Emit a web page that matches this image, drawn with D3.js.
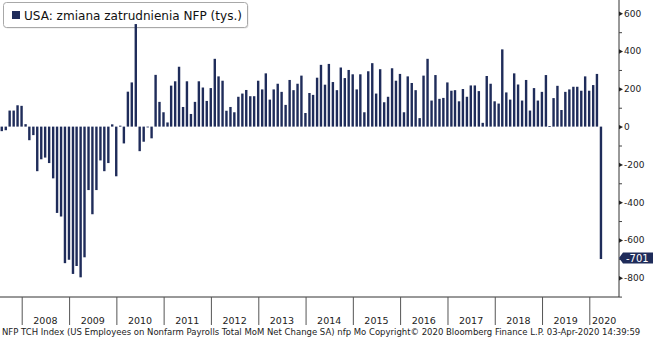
<!DOCTYPE html>
<html><head><meta charset="utf-8">
<script src="https://cdn.jsdelivr.net/npm/d3@7"></script>
<style>
body{margin:0;background:#fff}
svg{display:block}
text{font-family:"DejaVu Sans",Verdana,sans-serif}
</style>
</head><body><svg id="c" width="653" height="339"></svg>
<script>
// ---- data ----
const seriesName = "USA: zmiana zatrudnienia NFP (tys.)";
const firstYear = 2007, firstMonth = 6; // July 2007 (0-based month)
const nfpValues = [
  -24, -19, 85, 85, 113, 110,
  13, -72, -45, -236, -173, -164, -193, -274, -457, -476, -723, -705,
  -780, -738, -798, -692, -336, -464, -336, -179, -236, -193, 12, -263,
  5, -89, 185, 234, 543, -130, -80, -2, -62, 274, 131, 76,
  22, 217, 240, 317, 104, 240, 67, 131, 240, 207, 136, 204,
  359, 266, 243, 84, 104, 76, 158, 175, 194, 161, 161, 243,
  197, 282, 143, 197, 227, 184, 115, 247, 193, 227, 270, 72,
  178, 168, 259, 327, 222, 332, 236, 193, 313, 257, 300, 277,
  197, 277, 76, 293, 336, 175, 304, 129, 158, 309, 243, 279,
  76, 266, 231, 193, 45, 270, 359, 138, 273, 147, 152, 234,
  190, 193, 134, 199, 158, 218, 218, 188, 20, 268, 227, 134,
  122, 409, 181, 143, 282, 223, 138, 247, 85, 204, 138, 184,
  273, 3, 151, 216, 88, 184, 197, 211, 211, 190, 266, 190,
  220, 279, -701
];
const yearLabels = [2008,2009,2010,2011,2012,2013,2014,2015,2016,2017,2018,2019,2020];
const yMajorTicks = [600,400,200,0,-200,-400,-600,-800];
const yMinorTicks = [500,300,100,-100,-300,-500,-700,-900];
const lastValueLabel = "-701";
const footerText = "NFP TCH Index (US Employees on Nonfarm Payrolls Total MoM Net Change SA) nfp  Mo Copyright\u00A9 2020 Bloomberg Finance L.P. 03-Apr-2020 14:39:59";

// ---- layout ----
const navy = "#1f2c5a";
const plotRight = 619, plotBottom = 297;
const svg = d3.select("#c");

const x = d3.scaleTime()
  .domain([new Date(2008,0,1), new Date(2020,0,1)])
  .range([21.7, 589.3]);
const y = d3.scaleLinear().domain([-800, 600]).range([277.7, 13.3]);

const data = nfpValues.map((v,i) => {
  const m = firstMonth + i;
  const yr = firstYear + Math.floor(m/12);
  const mo = m % 12;
  return {date: new Date(yr, mo+1, 0), value: v};
});

// legend
const lg = svg.append("g");
lg.append("rect").attr("x",4.5).attr("y",3.5).attr("width",244).attr("height",25)
  .attr("rx",3).attr("fill","#e6e6e6").attr("stroke","none");
lg.append("rect").attr("x",3.5).attr("y",2.5).attr("width",244).attr("height",25)
  .attr("rx",3).attr("fill","#fff").attr("stroke","#a8a8a8");
lg.append("rect").attr("x",12).attr("y",11).attr("width",8).attr("height",8).attr("fill",navy);
lg.append("text").attr("x",24).attr("y",19.5).attr("font-size","11.5px").attr("fill","#111")
  .attr("textLength",218).attr("lengthAdjust","spacingAndGlyphs").text(seriesName);

// bars
const bw = 2.4;
svg.append("g").selectAll("rect").data(data).join("rect")
  .attr("x", d => x(d.date) - bw/2)
  .attr("width", bw)
  .attr("y", d => y(Math.max(0, d.value)))
  .attr("height", d => Math.max(0.8, Math.abs(y(d.value) - y(0))))
  .attr("fill", navy);

// right axis
const axisCol = "#333";
svg.append("line").attr("x1",plotRight).attr("x2",plotRight).attr("y1",0).attr("y2",plotBottom)
  .attr("stroke",axisCol).attr("stroke-width",1);
const yAxis = d3.axisRight(y).tickValues(yMajorTicks).tickSize(4).tickPadding(1).tickFormat(d3.format("d"));
const ya = svg.append("g").attr("transform",`translate(${plotRight},0)`).call(yAxis);
ya.select(".domain").remove();
ya.selectAll(".tick line").remove();
ya.selectAll(".tick").append("path").attr("d","M0,-2.2L4,0L0,2.2Z").attr("fill","#222");
ya.selectAll(".tick text").attr("font-size","9px").attr("fill","#222")
  .attr("font-family","DejaVu Sans, sans-serif").text(d => String(d).replace("\u2212","-"));
const yMinor = d3.axisRight(y).tickValues(yMinorTicks).tickSize(3).tickFormat("");
const ym = svg.append("g").attr("transform",`translate(${plotRight},0)`).call(yMinor);
ym.select(".domain").remove();
ym.selectAll(".tick line").attr("stroke","#444");

// bottom axis
svg.append("line").attr("x1",0).attr("x2",plotRight).attr("y1",plotBottom).attr("y2",plotBottom)
  .attr("stroke",axisCol);
const xAxis = d3.axisBottom(x).tickValues(yearLabels.map(yy => new Date(yy,0,1)))
  .tickSize(28).tickFormat("");
const xa = svg.append("g").attr("transform",`translate(0,${plotBottom})`).call(xAxis);
xa.select(".domain").remove();
xa.selectAll(".tick line").attr("stroke","#555");
svg.append("g").selectAll("text").data(yearLabels).join("text")
  .attr("x", yy => {
    const a = x(new Date(yy,0,1));
    const b = Math.min(plotRight, x(new Date(yy+1,0,1)));
    return (a+b)/2;
  })
  .attr("y", 324).attr("text-anchor","middle").attr("font-size","9.5px").attr("fill","#222")
  .text(d => d);

// last value tag
const last = data[data.length-1];
const ty = y(last.value) - 1;
svg.append("path")
  .attr("d",`M${plotRight},${ty}L${plotRight+4},${ty-5.6}L653,${ty-5.6}L653,${ty+5.6}L${plotRight+4},${ty+5.6}Z`)
  .attr("fill",navy);
svg.append("text").attr("x",626).attr("y",ty+3.6).attr("font-size","10px").attr("fill","#fff")
  .text(lastValueLabel);

// footer
svg.append("text").attr("x",2).attr("y",334.5).attr("font-size","8.5px").attr("fill","#222")
  .attr("font-family","Liberation Sans, Arial, sans-serif")
  .text(footerText);
</script>
</body></html>
